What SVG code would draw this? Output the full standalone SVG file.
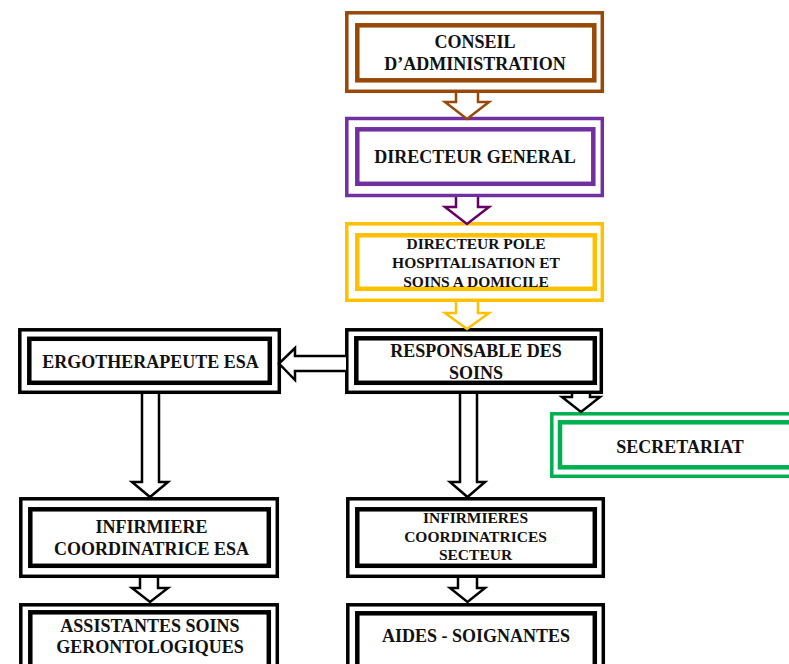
<svg xmlns="http://www.w3.org/2000/svg" width="789" height="664" viewBox="0 0 789 664">
<style>
.bg{fill:#ffffff}
.o{fill:#ffffff;stroke-width:3.5}
.i{fill:#ffffff;stroke-width:4.5}
.k{stroke:#000000}
.br{stroke:#984807}
.pu{stroke:#7030a0}
.ye{stroke:#ffc000}
.gr{stroke:#00b050}
.t{font-family:"Liberation Serif","Times New Roman",serif;font-weight:bold;font-size:18px;fill:#111111;text-anchor:middle}
.s{font-size:15.5px}
.a{fill:#ffffff;stroke-width:2.5;stroke-linejoin:miter}
</style>
<rect class="bg" x="0" y="0" width="789" height="664"/>
<g id="conseil">
<rect class="o br" x="346.8" y="12.8" width="255.5" height="78.5"/>
<rect class="i br" x="357.3" y="25.3" width="237" height="55"/>
<text class="t" x="475" y="48">CONSEIL</text>
<text class="t" x="475" y="70">D’ADMINISTRATION</text>
</g>
<g id="directeur-general">
<rect class="o pu" x="346.8" y="118.5" width="255.5" height="77"/>
<rect class="i pu" x="357.3" y="129.3" width="236" height="54.5"/>
<text class="t" x="475" y="163">DIRECTEUR GENERAL</text>
</g>
<g id="directeur-pole">
<rect class="o ye" x="346.8" y="223.8" width="255.5" height="76.5"/>
<rect class="i ye" x="357.3" y="235.3" width="237.5" height="53.5"/>
<text class="t s" x="476" y="249">DIRECTEUR POLE</text>
<text class="t s" x="476" y="268">HOSPITALISATION ET</text>
<text class="t s" x="476" y="286.5">SOINS A DOMICILE</text>
</g>
<g id="responsable">
<rect class="o k" x="346.8" y="329.8" width="254.5" height="62.5"/>
<rect class="i k" x="356.3" y="338.3" width="238.5" height="44.5"/>
<text class="t" x="476" y="357">RESPONSABLE DES</text>
<text class="t" x="476" y="378.5">SOINS</text>
</g>
<g id="ergotherapeute">
<rect class="o k" x="19.8" y="329.8" width="259.5" height="62.5"/>
<rect class="i k" x="29.3" y="338.8" width="240.5" height="44"/>
<text class="t" x="150.5" y="368">ERGOTHERAPEUTE ESA</text>
</g>
<g id="secretariat">
<rect class="o gr" x="551.8" y="413.8" width="260" height="62.5"/>
<rect class="i gr" x="560" y="422.3" width="250" height="45"/>
<text class="t" x="680" y="453">SECRETARIAT</text>
</g>
<g id="infirmiere-esa">
<rect class="o k" x="20.8" y="498.8" width="256.5" height="77.5"/>
<rect class="i k" x="30.3" y="509.3" width="238.5" height="56.5"/>
<text class="t" x="151.5" y="533">INFIRMIERE</text>
<text class="t" x="151.5" y="555">COORDINATRICE ESA</text>
</g>
<g id="infirmieres-secteur">
<rect class="o k" x="347.8" y="498.8" width="255.5" height="77.5"/>
<rect class="i k" x="357.3" y="509.3" width="237.5" height="56.5"/>
<text class="t s" x="475.5" y="523">INFIRMIERES</text>
<text class="t s" x="475.5" y="542">COORDINATRICES</text>
<text class="t s" x="475.5" y="560">SECTEUR</text>
</g>
<g id="assistantes">
<rect class="o k" x="20.8" y="604.8" width="256.5" height="80"/>
<rect class="i k" x="30.3" y="612.3" width="238.5" height="70"/>
<text class="t" x="150" y="632">ASSISTANTES SOINS</text>
<text class="t" x="150" y="653">GERONTOLOGIQUES</text>
</g>
<g id="aides-soignantes">
<rect class="o k" x="347.8" y="604.8" width="255.5" height="80"/>
<rect class="i k" x="357.3" y="613.3" width="237.5" height="70"/>
<text class="t" x="476" y="642">AIDES - SOIGNANTES</text>
</g>
<g id="connectors">
<path class="a br" d="M456,93 V102 H445 L467,119 L489,102 H478 V93"/>
<path class="a" stroke="#660066" d="M456,197 V207 H445 L467,224 L489,207 H478 V197"/>
<path class="a ye" d="M456,302 V313 H445 L467,329 L489,313 H478 V302"/>
<path class="a k" d="M346,356 H295 V348 L279,363.5 L295,380 V371 H346"/>
<path class="a k" d="M142,394 V482 H132 L150,497 L168,482 H159 V394"/>
<path class="a k" d="M460,394 V482 H450 L467.5,497 L485,482 H477 V394"/>
<path class="a k" d="M572,394 V397 H562 L581,412 L600,397 H590 V394"/>
<path class="a k" d="M140,578 V588 H132 L150,602 L168,588 H158 V578"/>
<path class="a k" d="M458,578 V588 H450 L467.5,602 L485,588 H477 V578"/>
</g>
</svg>
